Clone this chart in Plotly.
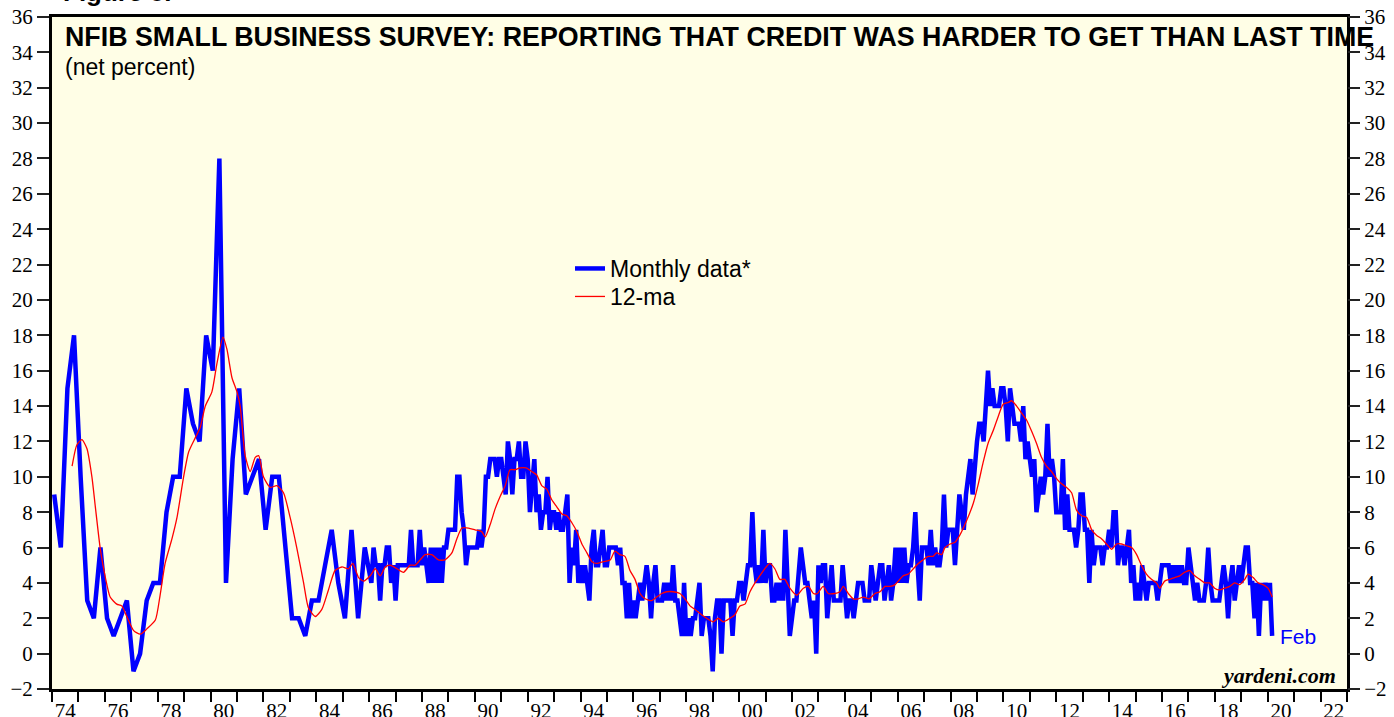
import plotly.graph_objects as go

# ---------------- data ----------------
quarter_months = [1, 4, 7, 10]
quarterly_1974_1985 = [
    9, 6, 15, 18,     # 1974
    10, 3, 2, 6,      # 1975
    2, 1, 2, 3,       # 1976
    -1, 0, 3, 4,      # 1977
    4, 8, 10, 10,     # 1978
    15, 13, 12, 18,   # 1979
    16, 28, 4, 11,    # 1980
    15, 9, 10, 11,    # 1981
    7, 10, 10, 6,     # 1982
    2, 2, 1, 3,       # 1983
    3, 5, 7, 4,       # 1984
    2, 7, 2, 6,       # 1985
]

monthly_1986_1989 = [
    4, 6, 5, 5, 3, 5, 5, 6, 6, 4, 5, 3,
    5, 5, 5, 5, 5, 5, 7, 5, 5, 5, 7, 5,
    6, 5, 4, 6, 4, 6, 4, 6, 4, 6, 6, 7,
    7, 7, 7, 10, 10, 8, 7, 5, 6, 6, 6, 6,
]
monthly_1990_1994 = [
    6, 7, 6, 7, 10, 10, 11, 11, 11, 10, 11, 11,
    10, 9, 12, 11, 9, 11, 11, 12, 10, 10, 12, 11,
    8, 10, 11, 8, 9, 7, 8, 8, 10, 7, 8, 8,
    7, 8, 7, 7, 8, 9, 4, 6, 5, 7, 4, 5,
    4, 5, 4, 3, 6, 7, 5, 5, 6, 7, 5, 5,
]
monthly_1995_1999 = [
    6, 6, 6, 6, 5, 6, 4, 4, 2, 4, 2, 3,
    2, 3, 4, 3, 4, 5, 4, 2, 4, 5, 3, 3,
    3, 4, 3, 4, 3, 5, 3, 3, 2, 1, 4, 1,
    2, 1, 2, 2, 3, 4, 1, 2, 2, 2, 1, -1,
    2, 3, 3, 0, 3, 3, 3, 3, 1, 3, 3, 4,
]
monthly_2000_2004 = [
    4, 3, 4, 5, 5, 8, 5, 4, 5, 4, 7, 4,
    5, 5, 3, 3, 4, 3, 4, 3, 7, 4, 1, 2,
    3, 3, 5, 6, 5, 4, 4, 3, 2, 3, 0, 5,
    4, 5, 5, 2, 4, 5, 3, 3, 3, 3, 5, 3,
    2, 3, 3, 2, 3, 4, 4, 4, 3, 3, 3, 5,
]
monthly_2005_2009 = [
    4, 3, 4, 5, 5, 3, 4, 5, 3, 4, 6, 4,
    6, 4, 6, 4, 5, 5, 6, 8, 5, 3, 6, 6,
    6, 5, 7, 5, 6, 5, 5, 6, 9, 6, 7, 7,
    7, 5, 7, 9, 8, 7, 9, 10, 11, 9, 11, 12,
    13, 13, 12, 14, 16, 14, 15, 14, 14, 14, 15, 15,
]
monthly_2010_2014 = [
    14, 12, 15, 14, 13, 13, 13, 12, 14, 11, 12, 11,
    10, 11, 8, 9, 10, 9, 10, 13, 10, 11, 10, 8,
    8, 8, 11, 7, 9, 7, 7, 7, 6, 7, 9, 9,
    7, 7, 4, 7, 5, 6, 6, 6, 5, 6, 6, 7,
    6, 8, 8, 5, 6, 6, 5, 6, 7, 4, 5, 3,
]
monthly_2015_2020 = [
    4, 3, 5, 4, 3, 4, 4, 4, 4, 3, 4, 5,
    5, 5, 5, 4, 5, 4, 5, 4, 5, 4, 4, 6,
    5, 4, 3, 4, 3, 3, 3, 4, 6, 4, 3, 3,
    3, 3, 4, 5, 4, 2, 4, 5, 3, 4, 5, 4,
    5, 6, 6, 4, 4, 2, 4, 1, 4, 3, 4, 3,
    4, 1,
]

# 12-month moving average (decimal year, value)
ma_dates = [
    1974.76, 1974.94, 1975.13, 1975.32, 1975.51, 1975.64, 1975.83, 1976.02, 1976.20, 1976.45,
    1976.64, 1976.83, 1977.09, 1977.34, 1977.59, 1977.91, 1978.09, 1978.28, 1978.54, 1978.73,
    1978.98, 1979.17, 1979.42, 1979.61, 1979.80, 1980.05, 1980.24, 1980.47, 1980.62, 1980.81,
    1981.00, 1981.12, 1981.31, 1981.50, 1981.69, 1981.82, 1982.00, 1982.26, 1982.51, 1982.76,
    1983.01, 1983.26, 1983.52, 1983.70, 1983.96, 1984.21, 1984.46, 1984.71, 1984.97, 1985.22,
    1985.38, 1985.60, 1985.79, 1986.04, 1986.23, 1986.42, 1986.61, 1986.80, 1987.05, 1987.30,
    1987.55, 1987.74, 1987.93, 1988.12, 1988.37, 1988.62, 1988.87, 1989.13, 1989.32, 1989.51,
    1989.76, 1990.01, 1990.26, 1990.39, 1990.58, 1990.77, 1990.96, 1991.15, 1991.33, 1991.52,
    1991.71, 1991.94, 1992.15, 1992.34, 1992.53, 1992.72, 1992.91, 1993.10, 1993.29, 1993.48,
    1993.67, 1993.86, 1994.05, 1994.24, 1994.43, 1994.61, 1994.86, 1995.12, 1995.30, 1995.49,
    1995.68, 1995.87, 1996.06, 1996.25, 1996.44, 1996.69, 1996.88, 1997.07, 1997.26, 1997.51,
    1997.76, 1997.95, 1998.14, 1998.33, 1998.58, 1998.77, 1999.02, 1999.21, 1999.40, 1999.65,
    1999.84, 2000.03, 2000.22, 2000.41, 2000.60, 2000.78, 2000.97, 2001.16, 2001.35, 2001.54,
    2001.73, 2001.92, 2002.18, 2002.43, 2002.62, 2002.81, 2002.96, 2003.18, 2003.37, 2003.63,
    2003.81, 2003.94, 2004.13, 2004.32, 2004.51, 2004.70, 2004.92, 2005.14, 2005.33, 2005.52,
    2005.71, 2005.90, 2006.02, 2006.21, 2006.40, 2006.59, 2006.78, 2006.96, 2007.15, 2007.34,
    2007.47, 2007.66, 2007.79, 2007.98, 2008.17, 2008.35, 2008.60, 2008.86, 2009.05, 2009.23,
    2009.42, 2009.61, 2009.80, 2009.99, 2010.18, 2010.31, 2010.50, 2010.69, 2010.88, 2011.06,
    2011.25, 2011.44, 2011.63, 2011.82, 2012.01, 2012.20, 2012.39, 2012.58, 2012.77, 2012.96,
    2013.15, 2013.34, 2013.52, 2013.71, 2013.90, 2014.09, 2014.28, 2014.47, 2014.66, 2014.85,
    2015.04, 2015.22, 2015.41, 2015.60, 2015.79, 2015.91, 2016.10, 2016.29, 2016.48, 2016.67,
    2016.86, 2017.05, 2017.24, 2017.43, 2017.62, 2017.80, 2017.99, 2018.18, 2018.37, 2018.56,
    2018.75, 2018.94, 2019.13, 2019.26, 2019.45, 2019.64, 2019.82, 2020.01, 2020.17,
]
ma_values = [
    10.6, 11.8, 12.1, 11.6, 10.0, 8.3, 5.9, 4.3, 3.2, 2.8,
    2.7, 2.1, 1.3, 1.1, 1.4, 1.9, 3.3, 5.1, 6.5, 7.7,
    10.0, 11.4, 12.2, 12.8, 14.0, 14.8, 16.4, 17.9, 17.2, 15.6,
    14.8, 14.0, 11.2, 10.3, 11.1, 11.2, 10.0, 9.4, 9.5, 9.1,
    7.7, 6.0, 4.0, 2.6, 2.1, 2.5, 3.6, 4.7, 4.9, 4.8,
    5.1, 4.3, 4.1, 4.4, 4.8, 4.4, 4.9, 5.0, 4.8, 4.6,
    5.0, 5.0, 5.3, 5.6, 5.6, 5.3, 5.3, 5.7, 6.5, 7.1,
    7.1, 7.0, 6.9, 6.6, 7.3, 8.2, 8.9, 9.5, 10.4, 10.4,
    10.5, 10.5, 10.3, 10.1, 9.5, 9.3, 8.7, 8.3, 7.9, 7.8,
    7.4, 6.9, 6.2, 5.7, 5.2, 5.1, 5.2, 5.3, 5.8, 5.6,
    5.5, 4.7, 4.2, 3.4, 3.1, 3.0, 3.2, 3.4, 3.5, 3.5,
    3.4, 3.1, 2.7, 2.5, 2.2, 2.0, 1.8, 2.0, 1.8, 2.0,
    2.2, 2.7, 2.8, 3.5, 4.0, 4.4, 4.8, 5.1, 4.8, 4.2,
    4.2, 3.7, 3.3, 3.7, 3.8, 3.4, 3.4, 3.8, 3.4, 3.4,
    3.5, 3.8, 3.4, 3.1, 3.1, 3.2, 3.1, 3.4, 3.5, 3.8,
    3.8, 3.9, 4.1, 4.4, 4.5, 4.8, 5.1, 5.3, 5.5, 5.5,
    5.7, 5.6, 6.0, 6.2, 6.3, 6.7, 7.5, 8.5, 9.6, 10.8,
    11.9, 12.6, 13.4, 14.1, 14.2, 14.3, 14.0, 13.6, 13.2, 12.6,
    11.9, 11.1, 10.6, 10.3, 9.9, 9.6, 9.4, 9.1, 8.1, 7.8,
    7.7, 7.0, 6.7, 6.5, 6.2, 5.9, 6.2, 6.2, 6.1, 6.0,
    5.6, 5.0, 4.5, 4.2, 4.0, 3.7, 4.1, 4.2, 4.3, 4.4,
    4.6, 4.7, 4.4, 4.2, 4.0, 4.0, 3.7, 3.6, 3.7, 3.8,
    4.0, 3.9, 4.2, 4.5, 4.3, 4.0, 3.9, 3.7, 3.2,
]

year_tick_labels = ["74", "76", "78", "80", "82", "84", "86", "88", "90", "92", "94", "96",
                    "98", "00", "02", "04", "06", "08", "10", "12", "14", "16", "18", "20", "22"]
label_years = list(range(1974, 2023, 2))
y_ticks = list(range(-2, 37, 2))

# ---------------- build series ----------------
dates = []
values = []
for i, v in enumerate(quarterly_1974_1985):
    dates.append(1974 + i // 4 + quarter_months[i % 4] / 12)
    values.append(v)

monthly = (monthly_1986_1989 + monthly_1990_1994 + monthly_1995_1999 +
           monthly_2000_2004 + monthly_2005_2009 + monthly_2010_2014 + monthly_2015_2020)
for i, v in enumerate(monthly):
    dates.append(1986 + (i + 1) / 12)
    values.append(v)

BLUE = "#0000FF"
RED = "#FF0000"
SANS = "Liberation Sans, Arial, sans-serif"
SERIF = "Liberation Serif, Times New Roman, serif"

fig = go.Figure()
fig.add_trace(go.Scatter(x=dates, y=values, mode="lines", name="Monthly data*",
                         line=dict(color=BLUE, width=4.5), yaxis="y", legend="legend"))
fig.add_trace(go.Scatter(x=ma_dates, y=ma_values, mode="lines", name="12-ma",
                         line=dict(color=RED, width=1.3, shape="spline", smoothing=0.6),
                         yaxis="y2", legend="legend2"))

W, H = 1394, 717
L, R, T, B = 52, 47, 17, 28
pw, ph = W - L - R, H - T - B


def px(xp):
    return (xp - L) / pw


def py(yp):
    return 1 - (yp - T) / ph


legend_common = dict(xanchor="left", yanchor="top", bgcolor="rgba(0,0,0,0)", borderwidth=0,
                     font=dict(family=SANS, size=23, color="black"))

axis_font = dict(family=SERIF, size=21, color="black")

fig.update_layout(
    width=W, height=H, autosize=False,
    margin=dict(l=L, r=R, t=T, b=B, pad=0, autoexpand=False),
    paper_bgcolor="white",
    plot_bgcolor="rgb(255,254,230)",
    showlegend=True,
    legend=dict(x=px(570), y=py(247), **legend_common),
    legend2=dict(x=px(570), y=py(275), **legend_common),
    xaxis=dict(range=[1974, 2023], tickmode="array", automargin=False,
               tickvals=[y + 0.5 for y in label_years], ticktext=year_tick_labels,
               ticks="outside", ticklen=1, tickcolor="rgba(0,0,0,0)",
               tickfont=axis_font,
               showline=True, linewidth=3, linecolor="black", mirror=True,
               showgrid=False, zeroline=False,
               minor=dict(tickmode="linear", tick0=1974, dtick=1, ticks="outside",
                          ticklen=10, tickwidth=2, tickcolor="black", showgrid=False)),
    yaxis=dict(range=[-2, 36], tickmode="array", tickvals=y_ticks, automargin=False,
               ticks="outside", ticklen=12, tickwidth=2, tickcolor="#222",
               tickfont=axis_font,
               showline=True, linewidth=3, linecolor="black", mirror=True,
               showgrid=False, zeroline=False),
    yaxis2=dict(range=[-2, 36], overlaying="y", side="right", tickmode="array", automargin=False,
                tickvals=y_ticks, ticks="outside", ticklen=12, tickwidth=2, tickcolor="#222",
                tickfont=axis_font,
                showline=False, showgrid=False, zeroline=False),
)

annotations = [
    dict(text="<b>NFIB SMALL BUSINESS SURVEY: REPORTING THAT CREDIT WAS HARDER TO GET THAN LAST TIME</b>",
         x=px(63), y=py(37), xanchor="left", yanchor="middle",
         font=dict(family=SANS, size=26.8, color="black")),
    dict(text="(net percent)", x=px(63), y=py(67), xanchor="left", yanchor="middle",
         font=dict(family=SANS, size=23, color="black")),
    dict(text="Feb", x=px(1278), y=py(636), xanchor="left", yanchor="middle",
         font=dict(family=SANS, size=21, color=BLUE)),
    dict(text="<b><i>yardeni.com</i></b>", x=px(1338), y=py(675), xanchor="right", yanchor="middle",
         font=dict(family=SERIF, size=22, color="black")),
    dict(text="<b>Figure 8.</b>", x=px(61), y=py(9), xanchor="left", yanchor="bottom",
         font=dict(family=SANS, size=26, color="black")),
]
for a in annotations:
    a.update(xref="paper", yref="paper", showarrow=False)
fig.update_layout(annotations=annotations)

fig.write_html("out.html", config={"displayModeBar": False},
               post_script="document.body.style.margin='0';document.body.style.overflow='hidden';")
